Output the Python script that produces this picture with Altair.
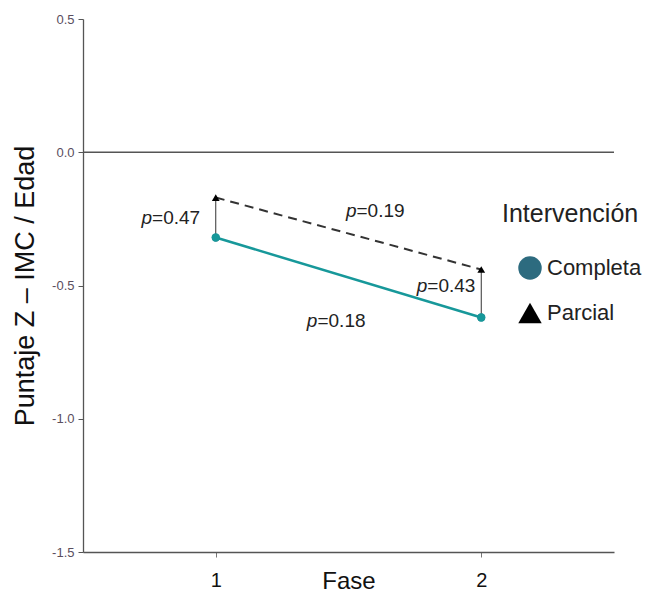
import altair as alt
import pandas as pd

# ---- data ----
fase = [1, 2]
completa = [-0.32, -0.62]
parcial = [-0.17, -0.44]
grupos = ["Completa", "Parcial"]

ann_x = [0.76, 1.53, 1.797, 1.383]
ann_y = [-0.247, -0.221, -0.502, -0.633]
ann_txt = ["=0.47", "=0.19", "=0.43", "=0.18"]

y_ticks = [-1.5, -1.0, -0.5, 0.0, 0.5]
x_ticks = [1, 2]

long = pd.DataFrame({
    "Fase": fase + fase,
    "Puntaje": completa + parcial,
    "Intervención": [grupos[0]] * 2 + [grupos[1]] * 2,
})
comp_df = pd.DataFrame({"Fase": fase, "Puntaje": completa})
parc_df = pd.DataFrame({"Fase": fase, "Puntaje": parcial})
arrow_df = pd.DataFrame({"Fase": fase, "y1": completa, "y2": parcial})
ann_df = pd.DataFrame({"x": ann_x, "y": ann_y, "t": ann_txt, "p": ["p"] * 4})
zero_df = pd.DataFrame({"y": [0.0]})

FONT = "Liberation Sans"
TEAL = "#17989a"

xs = alt.Scale(domain=[0.5, 2.5], nice=False, zero=False)
ys = alt.Scale(domain=[-1.5, 0.5], nice=False, zero=False)

xaxis = alt.Axis(values=x_ticks, format="d", title="Fase", grid=False,
                 labelFontSize=20, labelColor="#111", labelPadding=13,
                 tickSize=5, tickColor="#777", titleFontSize=24,
                 titleFontWeight="normal", titleColor="#111",
                 titleY=36, titleBaseline="alphabetic",
                 domainColor="#555", domainWidth=1.3)
yaxis = alt.Axis(values=y_ticks, title="Puntaje Z – IMC / Edad", grid=False,
                 labelExpr="datum.value < 0 ? '-' + format(-datum.value, '.1f') : format(datum.value, '.1f')",
                 labelFontSize=13, labelColor="#5a4e5e", labelPadding=4,
                 tickSize=5, tickColor="#555", titleFontSize=27,
                 titleFontWeight="normal", titleColor="#111", titlePadding=12,
                 domainColor="#555", domainWidth=1.3)

base_x = alt.X("Fase:Q", scale=xs, axis=xaxis)

zero = alt.Chart(zero_df).mark_rule(color="#555", strokeWidth=1.3).encode(
    y=alt.Y("y:Q", scale=ys, axis=yaxis)
)

arrows = alt.Chart(arrow_df).mark_rule(color="#333", strokeWidth=1).encode(
    x=base_x, y=alt.Y("y1:Q", scale=ys, axis=yaxis), y2="y2:Q"
)

dashed = alt.Chart(parc_df).mark_line(color="#333", strokeWidth=2,
                                      strokeDash=[9, 6]).encode(
    x=base_x, y=alt.Y("Puntaje:Q", scale=ys, axis=yaxis)
)

teal_line = alt.Chart(comp_df).mark_line(color=TEAL, strokeWidth=2.5).encode(
    x=base_x, y=alt.Y("Puntaje:Q", scale=ys, axis=yaxis)
)

legend_pts = alt.Chart(long).mark_point(filled=True, size=60, opacity=1).encode(
    x=base_x,
    y=alt.Y("Puntaje:Q", scale=ys, axis=yaxis),
    color=alt.Color("Intervención:N",
                    scale=alt.Scale(domain=grupos, range=["#2d6b7f", "#000000"]),
                    legend=alt.Legend(title="Intervención")),
    shape=alt.Shape("Intervención:N",
                    scale=alt.Scale(domain=grupos, range=["circle", "triangle-up"]),
                    legend=alt.Legend(title="Intervención")),
)

teal_pts = alt.Chart(comp_df).mark_point(filled=True, size=70, color=TEAL,
                                         opacity=1).encode(
    x=base_x, y=alt.Y("Puntaje:Q", scale=ys, axis=yaxis)
)

p_txt = alt.Chart(ann_df).mark_text(font=FONT, fontSize=19, fontStyle="italic",
                                    align="right", baseline="middle",
                                    color="#222").encode(
    x=alt.X("x:Q", scale=xs, axis=xaxis),
    y=alt.Y("y:Q", scale=ys, axis=yaxis),
    text="p:N",
)
v_txt = alt.Chart(ann_df).mark_text(font=FONT, fontSize=19, align="left",
                                    baseline="middle", color="#222").encode(
    x=alt.X("x:Q", scale=xs, axis=xaxis),
    y=alt.Y("y:Q", scale=ys, axis=yaxis),
    text="t:N",
)

chart = alt.layer(
    zero, arrows, dashed, teal_line, legend_pts, teal_pts, p_txt, v_txt
).properties(
    width=640, height=585,
    autosize=alt.AutoSizeParams(type="fit", contains="padding"),
    padding={"left": 3, "top": 5, "right": 33, "bottom": 0},
).configure(
    font=FONT,
).configure_view(
    stroke=None,
).configure_legend(
    orient="none", legendX=419, legendY=183,
    titleFontSize=25, titleFontWeight="normal", titleColor="#222",
    titlePadding=29, labelFontSize=22, labelColor="#222",
    symbolSize=550, symbolStrokeWidth=0, rowPadding=21, labelOffset=5,
    symbolOffset=16,
)

chart.save("out.html", embed_options={"renderer": "svg", "actions": False})
